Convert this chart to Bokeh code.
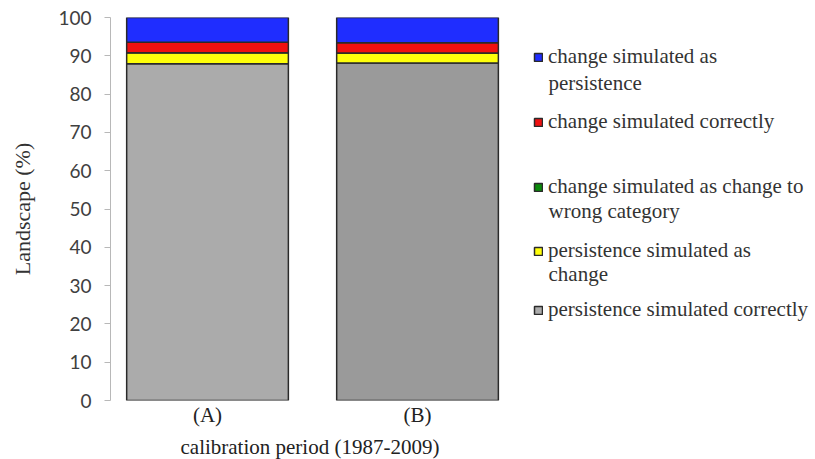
import numpy as np
from bokeh.plotting import figure
from bokeh.models import (ColumnDataSource, Legend, LegendItem, FixedTicker, Range1d, Title, Label)
from bokeh.embed import file_html
from bokeh.resources import INLINE

# ---- data ----
categories = ["(A)", "(B)"]
persistence_correct = [87.9, 88.1]
persistence_as_change = [2.9, 2.6]
change_wrong_category = [0.0, 0.0]
change_correct = [2.75, 2.7]
change_as_persistence = [6.45, 6.6]

# legend labels: first line / wrapped continuation
series_names = [
    ("persistence simulated correctly", ""),
    ("persistence simulated as", "change"),
    ("change simulated as change to", "wrong category"),
    ("change simulated correctly", ""),
    ("change simulated as", "persistence"),
]
series_values = [persistence_correct, persistence_as_change, change_wrong_category,
                 change_correct, change_as_persistence]
series_colors = [["#ababab", "#9a9a9a"], ["#ffff0a", "#ffff0a"], ["#0a8a0a", "#0a8a0a"],
                 ["#f01010", "#f01010"], ["#1f2dff", "#1f2dff"]]

y_ticks = list(range(0, 101, 10))
x_title = "calibration period (1987-2009)"
y_title = "Landscape (%)"

p = figure(frame_width=705, frame_height=383, output_backend="svg", toolbar_location=None,
           x_range=Range1d(-0.462, -0.462 + 705 / 210), y_range=Range1d(0, 100),
           min_border_left=110, min_border_top=17, min_border_right=0, min_border_bottom=50)
p.outline_line_color = None
p.xgrid.visible = False
p.ygrid.visible = False

xs = list(range(len(categories)))
vals = np.array(series_values, dtype=float)
tops = np.cumsum(vals, axis=0)
bottoms = tops - vals

renderers = []
for i in range(len(series_names)):
    src = ColumnDataSource(dict(x=xs, bottom=bottoms[i], top=tops[i], color=series_colors[i]))
    r = p.vbar(x="x", bottom="bottom", top="top", width=0.77, source=src,
               fill_color="color", line_color="#2a2a2a", line_width=1.5)
    renderers.append(r)

# y axis
yax = p.yaxis[0]
yax.ticker = FixedTicker(ticks=y_ticks)
yax.minor_tick_line_color = None
yax.axis_line_color = "#b8b8b8"
yax.major_tick_line_color = "#b8b8b8"
yax.major_tick_out = 6
yax.major_tick_in = 0
yax.major_label_standoff = 13
yax.major_label_text_font = "Lato"
yax.major_label_text_font_size = "19px"
yax.major_label_text_color = "#404040"
yax.axis_label = y_title
yax.axis_label_text_font = "Liberation Serif"
yax.axis_label_text_font_size = "22px"
yax.axis_label_text_font_style = "normal"
yax.axis_label_text_color = "#333333"
yax.axis_label_standoff = 20

# x axis
xax = p.xaxis[0]
xax.ticker = FixedTicker(ticks=xs)
xax.major_label_overrides = {i: c for i, c in enumerate(categories)}
xax.axis_line_color = None
xax.major_tick_line_color = None
xax.minor_tick_line_color = None
xax.major_tick_out = 0
xax.major_tick_in = 0
xax.major_label_standoff = 2
xax.major_label_text_font = "Liberation Serif"
xax.major_label_text_font_size = "21px"
xax.major_label_text_color = "#222222"

p.add_layout(Title(text=x_title, align="left", offset=70, standoff=7,
                   text_font="Liberation Serif", text_font_size="21px",
                   text_font_style="normal", text_color="#222222"), "below")

# legends (one per entry, irregular spacing as in the reference)
legend_order = [4, 3, 2, 1, 0]
legend_y = [331, 266, 201, 137, 78]      # bottom of each entry, px above frame bottom
second_line_y = [318, 0, 190, 127, 0]    # centre of wrapped second line
for idx, ly, sy in zip(legend_order, legend_y, second_line_y):
    first, second = series_names[idx]
    lg = Legend(items=[LegendItem(label=first, renderers=[renderers[idx]])],
                location=(423, ly), padding=0, margin=0, spacing=0,
                glyph_width=10, glyph_height=10, label_standoff=5,
                label_text_font="Liberation Serif", label_text_font_size="21px",
                label_text_color="#333333",
                background_fill_alpha=0, border_line_alpha=0)
    p.add_layout(lg, "center")
    if second:
        p.add_layout(Label(x=438, y=sy, x_units="screen", y_units="screen", text=second,
                           text_font="Liberation Serif", text_font_size="21px",
                           text_color="#333333", text_baseline="middle", text_align="left"))

open("out.html", "w").write(file_html(p, INLINE))
